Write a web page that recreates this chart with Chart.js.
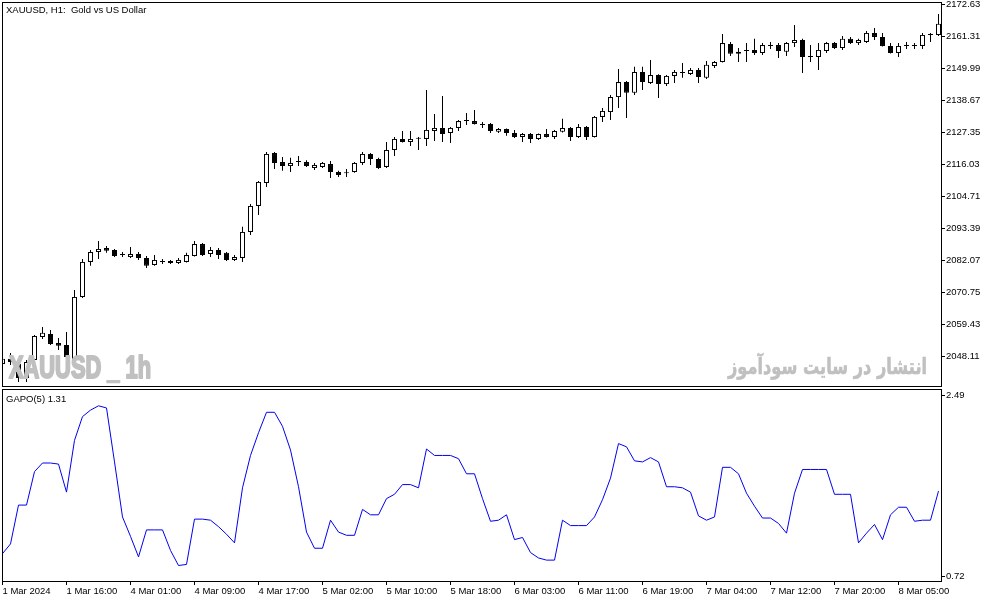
<!DOCTYPE html>
<html>
<head>
<meta charset="utf-8">
<script src="https://cdn.jsdelivr.net/npm/chart.js@4.4.1/dist/chart.umd.min.js"></script>
<style>
  html, body { margin: 0; padding: 0; background: #fff; }
  #wrap { position: relative; width: 994px; height: 603px; overflow: hidden; }
  canvas { position: absolute; left: 0; }
  #price { top: 0; }
  #osc { top: 389px; }
</style>
</head>
<body>
<div id="wrap">
  <canvas id="price" width="994" height="389"></canvas>
  <canvas id="osc" width="994" height="214"></canvas>
</div>
<script>
// XAUUSD H1, 1 Mar 2024 08:00 .. 8 Mar 2024 10:00 (118 bars)
const opens = [
  2045.3, 2047.1, 2045.3, 2040.3, 2046.7, 2054.8, 2055.9, 2052.7, 2052.0, 2046.7,
  2069.0, 2081.4, 2084.9, 2086.3, 2085.6, 2083.9, 2083.1, 2084.2, 2082.8, 2080.3,
  2081.4, 2081.7, 2081.0, 2081.4, 2083.5, 2087.7, 2084.2, 2085.6, 2084.6, 2082.1,
  2082.8, 2092.0, 2101.2, 2109.3, 2119.9, 2116.7, 2115.3, 2116.7, 2116.7, 2114.6,
  2115.0, 2116.0, 2113.2, 2112.8, 2113.2, 2116.4, 2119.6, 2117.8, 2115.0, 2121.0,
  2124.9, 2123.8, 2125.0, 2124.9, 2127.7, 2128.8, 2127.0, 2128.8, 2131.2, 2131.2,
  2129.8, 2130.2, 2127.4, 2128.4, 2127.0, 2125.6, 2126.6, 2124.9, 2126.6, 2125.6,
  2127.4, 2128.8, 2125.6, 2129.1, 2125.6, 2132.7, 2134.4, 2139.7, 2145.0, 2141.2,
  2148.6, 2144.7, 2147.5, 2144.3, 2147.2, 2148.2, 2147.9, 2149.3, 2146.5, 2150.7,
  2152.1, 2158.5, 2155.0, 2156.0, 2156.4, 2155.3, 2157.8, 2158.1, 2155.7, 2158.8,
  2159.9, 2153.9, 2153.9, 2156.0, 2158.8, 2157.1, 2160.3, 2158.8, 2159.2, 2162.4,
  2161.0, 2157.8, 2155.3, 2157.8, 2157.8, 2157.8, 2161.7, 2161.7
];
const highs = [
  2047.8, 2049.2, 2046.0, 2046.7, 2055.5, 2058.4, 2057.3, 2054.5, 2056.6, 2071.5,
  2082.4, 2085.6, 2088.8, 2087.0, 2086.0, 2084.9, 2086.7, 2084.9, 2083.5, 2083.8,
  2082.4, 2082.1, 2082.8, 2084.6, 2088.8, 2088.1, 2086.7, 2086.3, 2084.9, 2083.8,
  2093.8, 2101.9, 2110.0, 2120.3, 2120.3, 2118.5, 2118.2, 2118.9, 2117.4, 2116.4,
  2116.7, 2117.1, 2113.6, 2114.3, 2116.7, 2120.3, 2119.9, 2118.2, 2123.8, 2125.6,
  2127.7, 2127.7, 2125.6, 2142.2, 2133.7, 2140.1, 2129.1, 2131.6, 2134.1, 2135.1,
  2130.9, 2130.5, 2128.8, 2128.6, 2128.1, 2127.0, 2127.0, 2126.8, 2128.4, 2128.1,
  2132.0, 2129.1, 2130.2, 2129.5, 2133.0, 2135.8, 2140.4, 2149.6, 2145.4, 2150.4,
  2150.4, 2152.8, 2147.8, 2147.5, 2149.3, 2151.8, 2150.0, 2150.0, 2152.5, 2152.5,
  2162.0, 2159.2, 2157.1, 2158.8, 2160.3, 2158.8, 2159.2, 2158.8, 2159.2, 2165.2,
  2160.3, 2158.1, 2158.8, 2159.2, 2159.2, 2161.3, 2161.0, 2160.3, 2163.1, 2164.1,
  2162.4, 2158.8, 2158.8, 2159.2, 2158.8, 2162.4, 2162.4, 2169.1
];
const lows = [
  2044.9, 2044.9, 2038.9, 2038.9, 2046.3, 2054.1, 2052.0, 2050.2, 2047.5, 2046.3,
  2068.6, 2080.0, 2082.4, 2084.6, 2083.1, 2083.1, 2082.8, 2082.1, 2079.2, 2080.0,
  2080.7, 2080.7, 2080.7, 2081.2, 2083.3, 2083.5, 2083.1, 2082.4, 2081.7, 2081.7,
  2081.4, 2090.9, 2098.0, 2107.9, 2114.3, 2113.6, 2113.2, 2115.3, 2115.0, 2113.9,
  2114.6, 2111.1, 2111.4, 2111.4, 2112.9, 2115.7, 2115.7, 2114.3, 2114.6, 2118.9,
  2123.6, 2122.4, 2121.0, 2122.4, 2124.2, 2123.8, 2123.5, 2127.7, 2129.8, 2130.0,
  2128.8, 2127.0, 2127.0, 2126.0, 2125.2, 2123.8, 2123.5, 2124.5, 2125.4, 2124.9,
  2127.2, 2124.2, 2125.2, 2124.5, 2125.4, 2130.9, 2131.6, 2135.8, 2132.3, 2140.4,
  2142.2, 2144.3, 2139.4, 2143.6, 2144.7, 2146.5, 2147.5, 2144.7, 2146.1, 2150.0,
  2151.9, 2154.2, 2152.1, 2152.1, 2154.6, 2154.6, 2156.7, 2153.5, 2154.2, 2157.4,
  2148.2, 2152.1, 2149.3, 2155.3, 2156.7, 2156.4, 2158.5, 2158.1, 2158.8, 2159.9,
  2157.6, 2155.1, 2153.9, 2156.7, 2156.7, 2156.7, 2159.2, 2161.3
];
const closes = [
  2047.1, 2046.0, 2040.3, 2046.0, 2055.2, 2056.3, 2052.4, 2051.7, 2047.8, 2069.0,
  2081.4, 2084.9, 2086.0, 2085.3, 2083.5, 2083.8, 2084.2, 2082.8, 2080.0, 2082.1,
  2081.4, 2081.0, 2082.1, 2083.8, 2087.7, 2083.8, 2085.6, 2083.8, 2082.1, 2083.1,
  2092.0, 2101.2, 2109.7, 2119.6, 2116.4, 2115.3, 2116.4, 2116.7, 2115.3, 2115.7,
  2116.4, 2113.2, 2112.1, 2113.0, 2116.4, 2119.6, 2117.8, 2114.6, 2121.0, 2124.9,
  2123.8, 2124.9, 2125.0, 2128.1, 2128.8, 2126.6, 2128.8, 2131.2, 2131.3, 2130.2,
  2129.8, 2127.7, 2128.4, 2127.0, 2125.6, 2126.6, 2124.9, 2126.6, 2125.6, 2127.7,
  2128.8, 2125.6, 2129.1, 2125.6, 2132.7, 2134.8, 2139.7, 2145.0, 2141.2, 2148.6,
  2145.0, 2147.5, 2144.3, 2147.2, 2148.6, 2148.3, 2149.3, 2146.8, 2151.1, 2152.1,
  2158.8, 2155.0, 2155.7, 2156.0, 2155.3, 2158.1, 2157.8, 2156.0, 2158.8, 2159.9,
  2153.9, 2153.9, 2156.4, 2158.8, 2157.1, 2160.3, 2158.8, 2159.9, 2162.4, 2161.0,
  2157.8, 2155.3, 2157.8, 2157.8, 2157.8, 2161.7, 2161.7, 2165.6
];
// GAPO(5) per bar
const gapo = [
  0.98, 1.07, 1.43, 1.43, 1.74, 1.82, 1.82, 1.81, 1.55, 2.03,
  2.25, 2.31, 2.35, 2.33, 1.83, 1.32, 1.14, 0.95, 1.20, 1.20,
  1.20, 1.01, 0.87, 0.88, 1.30, 1.30, 1.29, 1.23, 1.16, 1.08,
  1.59, 1.89, 2.10, 2.29, 2.29, 2.16, 1.94, 1.60, 1.18, 1.03,
  1.03, 1.29, 1.18, 1.15, 1.15, 1.39, 1.34, 1.34, 1.49, 1.53,
  1.62, 1.62, 1.59, 1.95, 1.89, 1.89, 1.89, 1.86, 1.72, 1.72,
  1.49, 1.28, 1.29, 1.34, 1.11, 1.13, 0.99, 0.94, 0.92, 0.92,
  1.29, 1.24, 1.24, 1.24, 1.32, 1.48, 1.68, 2.00, 1.97, 1.84,
  1.83, 1.87, 1.83, 1.60, 1.60, 1.59, 1.55, 1.33, 1.29, 1.32,
  1.78, 1.78, 1.72, 1.54, 1.42, 1.31, 1.31, 1.26, 1.17, 1.54,
  1.76, 1.76, 1.76, 1.76, 1.53, 1.53, 1.53, 1.08, 1.17, 1.25,
  1.11, 1.34, 1.41, 1.41, 1.28, 1.29, 1.29, 1.56
];
// time axis: one label every 8 bars
const tickBars = [0, 8, 16, 24, 32, 40, 48, 56, 64, 72, 80, 88, 96, 104, 112];
const tickLabels = [
  '1 Mar 2024', '1 Mar 16:00', '4 Mar 01:00', '4 Mar 09:00', '4 Mar 17:00',
  '5 Mar 02:00', '5 Mar 10:00', '5 Mar 18:00', '6 Mar 03:00', '6 Mar 11:00',
  '6 Mar 19:00', '7 Mar 04:00', '7 Mar 12:00', '7 Mar 20:00', '8 Mar 05:00'
];
const priceTicks = [2172.63, 2161.31, 2149.99, 2138.67, 2127.35, 2116.03,
                    2104.71, 2093.39, 2082.07, 2070.75, 2059.43, 2048.11];
// oscillator scale labels sit just inside the window edges
const oscTickPos = [2.45, 0.767];
const oscTickLabels = ['2.49', '0.72'];

const AXIS_FONT = { family: "'Liberation Sans', Arial, sans-serif", size: 9.5 };
const X_MIN = -0.0625, X_MAX = 117.3125;

const frame = {
  id: 'frame',
  afterDraw(chart) {
    const { ctx, chartArea: a } = chart;
    ctx.save();
    ctx.strokeStyle = '#000';
    ctx.lineWidth = 1;
    ctx.strokeRect(a.left + 0.5, a.top - 0.5, a.right - a.left, a.bottom - a.top + 1);
    ctx.restore();
  }
};

// draws text squeezed to a given width, optionally fattened by a stroke
function squeezeText(ctx, text, font, x, y, width, align, fat) {
  ctx.font = font;
  const w = ctx.measureText(text).width;
  ctx.save();
  ctx.translate(x, y);
  ctx.scale(width / w, 1);
  ctx.textAlign = align;
  if (fat) {
    ctx.strokeStyle = ctx.fillStyle;
    ctx.lineWidth = fat;
    ctx.lineJoin = 'round';
    ctx.strokeText(text, 0, 0);
  }
  ctx.fillText(text, 0, 0);
  ctx.restore();
}

const priceLabels = {
  id: 'priceLabels',
  afterDatasetsDraw(chart) {
    const ctx = chart.ctx;
    ctx.save();
    ctx.fillStyle = '#c0c0c0';
    ctx.textBaseline = 'alphabetic';
    squeezeText(ctx, 'XAUUSD _ 1h', "bold 31px 'Liberation Sans', Arial, sans-serif", 9, 378, 142, 'left', 2.2);
    ctx.direction = 'rtl';
    squeezeText(ctx, 'انتشار در سایت سودآموز', "bold 22px 'DejaVu Sans', sans-serif", 927, 374, 199, 'right', 0.6);
    ctx.direction = 'ltr';
    ctx.fillStyle = '#000';
    ctx.font = "9.5px 'Liberation Sans', Arial, sans-serif";
    ctx.textAlign = 'left';
    ctx.fillText('XAUUSD, H1:  Gold vs US Dollar', 6, 13);
    ctx.restore();
  }
};

const oscLabel = {
  id: 'oscLabel',
  afterDatasetsDraw(chart) {
    const ctx = chart.ctx;
    ctx.save();
    ctx.fillStyle = '#000';
    ctx.font = "9.5px 'Liberation Sans', Arial, sans-serif";
    ctx.textBaseline = 'alphabetic';
    ctx.fillText('GAPO(5) 1.31', 6, 13);
    ctx.restore();
  }
};

const bodyData = opens.map((o, i) => ({ x: i, y: [o, closes[i]] }));
const wickData = lows.map((l, i) => ({ x: i, y: [l, highs[i]] }));

new Chart(document.getElementById('price'), {
  type: 'bar',
  data: {
    datasets: [{
      data: bodyData,
      backgroundColor: c => closes[c.dataIndex] >= opens[c.dataIndex] ? '#fff' : '#000',
      borderColor: '#000',
      borderWidth: 1,
      borderSkipped: false,
      barThickness: 5,
      minBarLength: 1,
      grouped: false,
      inflateAmount: 0,
      clip: 0
    }, {
      data: wickData,
      backgroundColor: '#000',
      borderWidth: 0,
      barThickness: 1,
      grouped: false,
      inflateAmount: 0,
      clip: 0
    }]
  },
  options: {
    responsive: false,
    devicePixelRatio: 1,
    animation: false,
    events: [],
    layout: { padding: { left: 2, top: 3, right: 0, bottom: 3 } },
    plugins: { legend: { display: false }, tooltip: { enabled: false } },
    scales: {
      x: { type: 'linear', display: false, min: X_MIN, max: X_MAX, offset: false, bounds: 'data' },
      y: {
        position: 'right',
        min: 2037.50,
        max: 2172.984,
        bounds: 'data',
        afterFit(s) { s.width = 53; s.paddingTop = 0; s.paddingBottom = 0; },
        afterBuildTicks(s) { s.ticks = priceTicks.map(v => ({ value: v })); },
        ticks: { callback: v => v.toFixed(2), color: '#000', font: AXIS_FONT, padding: 1, autoSkip: false },
        grid: { drawOnChartArea: false, tickLength: 4, color: '#000' },
        border: { display: true, color: '#000' }
      }
    }
  },
  plugins: [priceLabels, frame]
});

new Chart(document.getElementById('osc'), {
  type: 'line',
  data: {
    datasets: [{
      data: gapo.map((v, i) => ({ x: i, y: v })),
      borderColor: '#0000f0',
      borderWidth: 1,
      pointRadius: 0,
      tension: 0,
      fill: false
    }]
  },
  options: {
    responsive: false,
    devicePixelRatio: 1,
    animation: false,
    events: [],
    layout: { padding: { left: 2, top: 1, right: 0, bottom: 0 } },
    plugins: { legend: { display: false }, tooltip: { enabled: false } },
    scales: {
      x: {
        type: 'linear', min: X_MIN, max: X_MAX, offset: false, bounds: 'data',
        afterFit(s) { s.height = 22; s.paddingLeft = 0; s.paddingRight = 0; },
        afterBuildTicks(s) { s.ticks = tickBars.map(v => ({ value: v })); },
        ticks: { callback: (v, i) => tickLabels[i], align: 'start', maxRotation: 0, autoSkip: false,
                 color: '#000', font: AXIS_FONT, padding: 1 },
        grid: { drawOnChartArea: false, tickLength: 4, color: '#000', offset: false },
        border: { display: true, color: '#000' }
      },
      y: {
        position: 'right',
        min: 0.7265,
        max: 2.4965,
        bounds: 'data',
        afterFit(s) { s.width = 53; s.paddingTop = 0; s.paddingBottom = 0; },
        afterBuildTicks(s) { s.ticks = oscTickPos.map(v => ({ value: v })); },
        ticks: { callback: (v, i) => oscTickLabels[i], color: '#000', font: AXIS_FONT, padding: 1, autoSkip: false },
        grid: { drawOnChartArea: false, tickLength: 4, color: '#000' },
        border: { display: true, color: '#000' }
      }
    }
  },
  plugins: [oscLabel, frame]
});
</script>
</body>
</html>
